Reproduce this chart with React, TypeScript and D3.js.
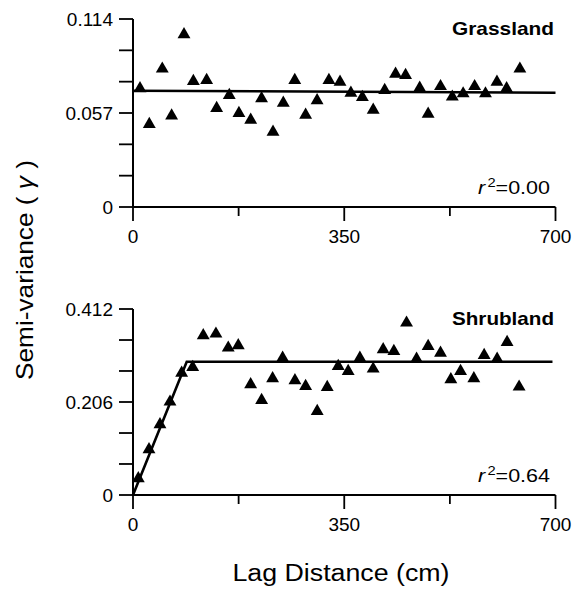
import React from 'react';
import * as d3 from 'd3';

// ---- Data ----
const lagTicks = [0, 175, 350, 525, 700];
const lagLabels = [0, 350, 700];

const grassYTicks = [0, 0.019, 0.038, 0.057, 0.076, 0.095, 0.114];
const grassYLabels = [0, 0.057, 0.114];
const shrubYTicks = [0, 0.0687, 0.1373, 0.206, 0.2747, 0.3433, 0.412];
const shrubYLabels = [0, 0.206, 0.412];

const grassLag = [11.6, 27, 48.5, 64, 84.5, 100, 122, 138.6, 159.5, 175.5, 195, 213, 232, 249, 268, 286, 305, 324.6, 343, 361, 380, 398, 417, 435, 451.6, 475, 489, 509.5, 529, 547, 566, 584, 603, 619, 641];
const grassGamma = [0.0726, 0.0509, 0.0845, 0.0561, 0.1053, 0.077, 0.0776, 0.0606, 0.0685, 0.0576, 0.0535, 0.0665, 0.0462, 0.0638, 0.0776, 0.0565, 0.0653, 0.0776, 0.0765, 0.0699, 0.0673, 0.0596, 0.0715, 0.0814, 0.0806, 0.0729, 0.0571, 0.0739, 0.0675, 0.0695, 0.0739, 0.0695, 0.0765, 0.0726, 0.0845];

const shrubLag = [8.8, 26.5, 44.7, 61.3, 80.6, 98.9, 116.4, 137.4, 157.8, 174.4, 194.9, 213.1, 231.3, 247.9, 268.3, 286, 305.2, 321.8, 340, 356.5, 375.9, 397.9, 414.5, 432.2, 453.2, 469.8, 489, 509.5, 526.6, 542.7, 564.7, 581.8, 603.3, 619.8, 639.7];
const shrubGamma = [0.0392, 0.1034, 0.1588, 0.2089, 0.2731, 0.2857, 0.356, 0.3595, 0.3285, 0.3338, 0.2474, 0.2126, 0.2607, 0.3063, 0.2563, 0.2437, 0.1883, 0.2414, 0.288, 0.2769, 0.3063, 0.282, 0.3249, 0.3212, 0.3839, 0.3041, 0.3323, 0.3174, 0.2585, 0.2769, 0.2607, 0.3123, 0.3041, 0.3411, 0.2421];

const grassFitLag = [0, 700];
const grassFitGamma = [0.0705, 0.0693];
const shrubFitLag = [0, 89, 695];
const shrubFitGamma = [0, 0.295, 0.295];

const FONT = '"Liberation Sans", Arial, Helvetica, sans-serif';

type PanelProps = {
  top: number;
  bottom: number;
  yMax: number;
  yTicks: number[];
  yLabels: number[];
  xs: number[];
  ys: number[];
  fitX: number[];
  fitY: number[];
  title: string;
  titleLen: number;
  r2: string;
};

function fmt(v: number) {
  return v === 0 ? '0' : v.toFixed(3);
}

function Panel(p: PanelProps) {
  const x = d3.scaleLinear().domain([0, 700]).range([133, 555.5]);
  const y = d3.scaleLinear().domain([0, p.yMax]).range([p.bottom, p.top]);
  const tri = d3.symbol().type(d3.symbolTriangle).size(72)();
  const line = d3
    .line<number>()
    .x((_, i) => x(p.fitX[i]))
    .y((d) => y(d));
  const x0 = x(0);
  const y0 = y(0);
  return (
    <g>
      {/* y axis */}
      <line x1={x0} x2={x0} y1={y(p.yMax)} y2={y0} stroke="#000" strokeWidth={2} />
      {p.yTicks.map((t, i) => (
        <line key={'yt' + i} x1={x0 - 14} x2={x0} y1={y(t)} y2={y(t)} stroke="#000" strokeWidth={1.8} />
      ))}
      {p.yLabels.map((t, i) => (
        <text key={'yl' + i} x={x0 - 20} y={y(t)} dy="0.36em" textAnchor="end" fontSize={19} fontFamily={FONT}>
          {fmt(t)}
        </text>
      ))}
      {/* x axis */}
      <line x1={x0} x2={x(700)} y1={y0} y2={y0} stroke="#000" strokeWidth={2} />
      {lagTicks.map((t, i) => (
        <line
          key={'xt' + i}
          x1={x(t)}
          x2={x(t)}
          y1={y0}
          y2={y0 + (lagLabels.includes(t) ? 14 : 9)}
          stroke="#000"
          strokeWidth={1.8}
        />
      ))}
      {lagLabels.map((t, i) => (
        <text key={'xl' + i} x={x(t)} y={y0 + 36} textAnchor="middle" fontSize={19} fontFamily={FONT}>
          {t}
        </text>
      ))}
      {/* fit line */}
      <path d={line(p.fitY) || ''} fill="none" stroke="#000" strokeWidth={2.6} />
      {/* points */}
      {p.xs.map((v, i) => (
        <path key={'pt' + i} d={tri || ''} transform={`translate(${x(v)},${y(p.ys[i]) + 1.2})`} fill="#000" />
      ))}
      {/* title */}
      <text
        x={554}
        y={p.top + 16}
        textAnchor="end"
        fontSize={19}
        fontWeight="bold"
        fontFamily={FONT}
        textLength={p.titleLen}
        lengthAdjust="spacingAndGlyphs"
      >
        {p.title}
      </text>
      <text
        x={550}
        y={y0 - 13.5}
        textAnchor="end"
        fontSize={19}
        fontFamily={FONT}
        textLength={72}
        lengthAdjust="spacingAndGlyphs"
      >
        <tspan fontStyle="italic">r</tspan>
        <tspan fontSize={13} dx={2} dy={-7}>2</tspan>
        <tspan dy={7}>{'=' + p.r2}</tspan>
      </text>
    </g>
  );
}

export default function App() {
  return (
    <svg
      width={580}
      height={591}
      viewBox="0 0 580 591"
      style={{ position: 'absolute', left: 0, top: 0, background: '#fff' }}
    >
      <rect x={0} y={0} width={580} height={591} fill="#fff" />
      <Panel
        top={19}
        bottom={207}
        yMax={0.114}
        yTicks={grassYTicks}
        yLabels={grassYLabels}
        xs={grassLag}
        ys={grassGamma}
        fitX={grassFitLag}
        fitY={grassFitGamma}
        title="Grassland"
        titleLen={102}
        r2="0.00"
      />
      <Panel
        top={309}
        bottom={495}
        yMax={0.412}
        yTicks={shrubYTicks}
        yLabels={shrubYLabels}
        xs={shrubLag}
        ys={shrubGamma}
        fitX={shrubFitLag}
        fitY={shrubFitGamma}
        title="Shrubland"
        titleLen={102}
        r2="0.64"
      />
      <text
        transform="translate(33,270) rotate(-90)"
        textAnchor="middle"
        fontSize={24}
        fontFamily={FONT}
        textLength={220}
        lengthAdjust="spacingAndGlyphs"
      >
        <tspan>{'Semi-variance ( '}</tspan>
        <tspan fontStyle="italic">γ</tspan>
        <tspan>{' )'}</tspan>
      </text>
      <text
        x={341}
        y={581}
        textAnchor="middle"
        fontSize={23}
        fontFamily={FONT}
        textLength={217}
        lengthAdjust="spacingAndGlyphs"
      >
        Lag Distance (cm)
      </text>
    </svg>
  );
}
